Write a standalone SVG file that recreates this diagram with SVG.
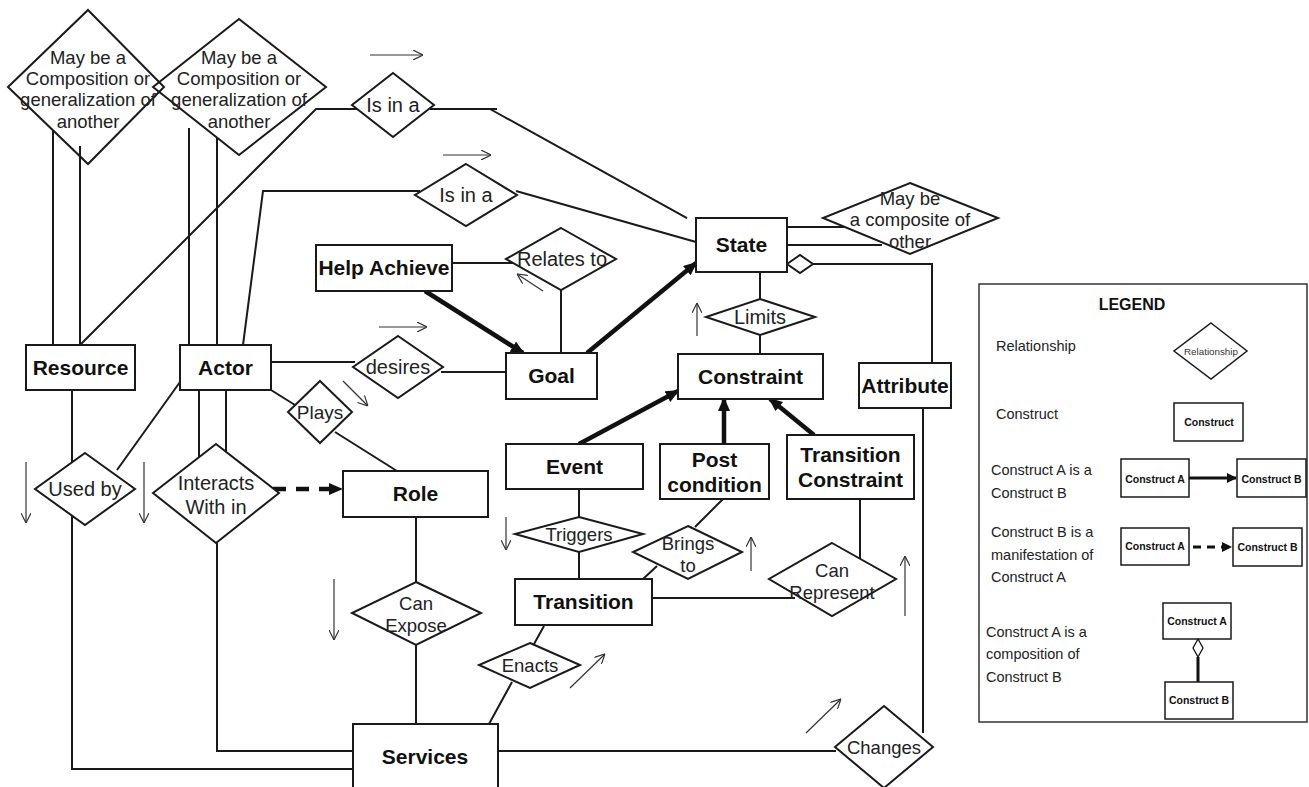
<svg xmlns="http://www.w3.org/2000/svg" width="1309" height="787" viewBox="0 0 1309 787">
<style>
.ln{fill:none;stroke:#1a1a1a;stroke-width:2}
.thick{fill:none;stroke:#111;stroke-width:4.5}
.thin{fill:none;stroke:#333;stroke-width:1.2}
.box{fill:#fff;stroke:#1a1a1a;stroke-width:2}
.dia{fill:#fff;stroke:#1a1a1a;stroke-width:2}
.dia0{fill:none;stroke:#1a1a1a;stroke-width:2}
.nt{font-family:"Liberation Sans",Arial,sans-serif;font-weight:bold;font-size:21px;fill:#111;text-anchor:middle}
.rt{font-family:"Liberation Sans",Arial,sans-serif;font-size:20px;fill:#222;text-anchor:middle}
.rs{font-family:"Liberation Sans",Arial,sans-serif;font-size:18.5px;fill:#222;text-anchor:middle}
.lt{font-family:"Liberation Sans",Arial,sans-serif;font-size:14.5px;fill:#222}
.lb{font-family:"Liberation Sans",Arial,sans-serif;font-weight:bold;font-size:10.5px;fill:#111;text-anchor:middle}
</style>
<defs>
<marker id="ah" viewBox="0 0 14 12" refX="12" refY="6" markerWidth="14" markerHeight="12" markerUnits="userSpaceOnUse" orient="auto"><path d="M0,0 L14,6 L0,12 z" fill="#111"/></marker>
<marker id="ahs" viewBox="0 0 10 10" refX="9" refY="5" markerWidth="10" markerHeight="10" markerUnits="userSpaceOnUse" orient="auto"><path d="M0,0 L10,5 L0,10 z" fill="#111"/></marker>
<marker id="oh" viewBox="0 0 10 10" refX="10" refY="5" markerWidth="10" markerHeight="10" markerUnits="userSpaceOnUse" orient="auto"><path d="M0,0 L10,5 L0,10" fill="none" stroke="#333" stroke-width="1.2"/></marker>
</defs>

<g id="connectors">
<path class="ln" d="M53,130 V345 M80,146 V345"/>
<path class="ln" d="M189,128 V345 M217,138 V345"/>
<path class="ln" d="M80,345 L316,109 H357"/>
<path class="ln" d="M430,109 H497 M490,109 L687,218"/>
<path class="ln" d="M243,345 L263,191 H420"/>
<path class="ln" d="M516,191 L696,242"/>
<path class="ln" d="M271,362 H355 M441,372 H506"/>
<path class="ln" d="M452,263 H513"/>
<path class="ln" d="M561,290 V353"/>
<path class="thick" d="M425,291 L523,353" marker-end="url(#ah)"/>
<path class="thick" d="M587,353 L696,263" marker-end="url(#ah)"/>
<path class="ln" d="M760,272 V299 M760,335 V354"/>
<path class="ln" d="M787,227 H846 M787,245 H882"/>
<path class="ln" d="M813,264 H932 V363"/>
<polygon class="dia" points="787,264 800,255 813,264 800,273"/>
<path class="ln" d="M923,408 V733"/>
<path class="ln" d="M498,751 H836"/>
<path class="ln" d="M72,390 V769 H353"/>
<path class="ln" d="M117,470 L180,382"/>
<path class="ln" d="M199,390 V457 M226,390 V452"/>
<path class="ln" d="M217,543 V751 H353"/>
<path d="M273,489 H341" fill="none" stroke="#111" stroke-width="4.5" stroke-dasharray="13 10" marker-end="url(#ah)"/>
<path class="ln" d="M271,390 L295,405 M335,432 L397,471"/>
<path class="ln" d="M416,517 V582 M416,645 V724"/>
<path class="thick" d="M579,444 L678,391" marker-end="url(#ah)"/>
<path class="thick" d="M724,444 V399" marker-end="url(#ah)"/>
<path class="thick" d="M814,435 L770,399" marker-end="url(#ah)"/>
<path class="ln" d="M579,489 V517 M579,552 V579"/>
<path class="ln" d="M723,499 L695,527 M657,566 L643,579"/>
<path class="ln" d="M652,598 H795"/>
<path class="ln" d="M860,499 V559"/>
<path class="ln" d="M544,626 L534,644 M512,682 L489,724"/>
<path class="thin" d="M370,55 H423" marker-end="url(#oh)"/>
<path class="thin" d="M443,155 H491" marker-end="url(#oh)"/>
<path class="thin" d="M379,327 H427" marker-end="url(#oh)"/>
<path class="thin" d="M343,381 L368,406" marker-end="url(#oh)"/>
<path class="thin" d="M543,291 L517,274" marker-end="url(#oh)"/>
<path class="thin" d="M697,336 V303" marker-end="url(#oh)"/>
<path class="thin" d="M26,462 V523" marker-end="url(#oh)"/>
<path class="thin" d="M144,462 V523" marker-end="url(#oh)"/>
<path class="thin" d="M334,579 V640" marker-end="url(#oh)"/>
<path class="thin" d="M506,517 V550" marker-end="url(#oh)"/>
<path class="thin" d="M751,571 V537" marker-end="url(#oh)"/>
<path class="thin" d="M905,616 V556" marker-end="url(#oh)"/>
<path class="thin" d="M570,688 L605,654" marker-end="url(#oh)"/>
<path class="thin" d="M806,733 L841,699" marker-end="url(#oh)"/>
</g>

<g id="comp1"><polygon class="dia0" points="88,10 164,87 88,164 8,87"/>
<text class="rs" x="88" y="63.5">May be a</text><text class="rs" x="88" y="84.5">Composition or</text><text class="rs" x="88" y="106">generalization of</text><text class="rs" x="88" y="127.5">another</text></g>
<g id="comp2"><polygon class="dia0" points="239,19 326,87 239,155 153,87"/>
<text class="rs" x="239" y="63.5">May be a</text><text class="rs" x="239" y="84.5">Composition or</text><text class="rs" x="239" y="106">generalization of</text><text class="rs" x="239" y="127.5">another</text></g>
<g id="isina1"><polygon class="dia" points="393,73 434,105 393,137 352,105"/><text class="rt" x="393" y="112">Is in a</text></g>
<g id="isina2"><polygon class="dia" points="466,164 517,195 466,226 415,195"/><text class="rt" x="466" y="202">Is in a</text></g>
<g id="relates"><polygon class="dia" points="561,228 616,259 561,290 506,259"/><text class="rt" x="562" y="266">Relates to</text></g>
<g id="desires"><polygon class="dia" points="398,336 443,367 398,398 353,367"/><text class="rt" x="398" y="374">desires</text></g>
<g id="plays"><polygon class="dia" points="320,381 352,412 320,443 288,412"/><text class="rt" x="320" y="419" style="font-size:19px">Plays</text></g>
<g id="usedby"><polygon class="dia" points="85,453 135,489 85,525 35,489"/><text class="rt" x="85" y="496">Used by</text></g>
<g id="interacts"><polygon class="dia" points="216,444 279,493 216,543 153,493"/><text class="rt" x="216" y="490">Interacts</text><text class="rt" x="216" y="514">With in</text></g>
<g id="limits"><polygon class="dia" points="760,299 815,317 760,335 706,317"/><text class="rt" x="760" y="324">Limits</text></g>
<g id="composite"><polygon class="dia" points="910,183 998,218 910,254 823,218"/><text class="rs" x="910" y="204.5">May be</text><text class="rs" x="910" y="225.5">a composite of</text><text class="rs" x="910" y="247.5">other</text></g>
<g id="triggers"><polygon class="dia" points="579,517 643,534 579,552 515,534"/><text class="rs" x="579" y="541">Triggers</text></g>
<g id="brings"><polygon class="dia" points="688,526 742,552 688,579 633,552"/><text class="rs" x="688" y="549.5">Brings</text><text class="rs" x="688" y="571.5">to</text></g>
<g id="canrep"><polygon class="dia" points="832,543 896,579 832,616 769,579"/><text class="rs" x="832" y="576.5">Can</text><text class="rs" x="832" y="598.5">Represent</text></g>
<g id="canexp"><polygon class="dia" points="416,582 481,613 416,645 352,613"/><text class="rs" x="416" y="609.5">Can</text><text class="rs" x="416" y="631.5">Expose</text></g>
<g id="enacts"><polygon class="dia" points="530,643 580,665 530,688 479,665"/><text class="rs" x="530" y="671.5">Enacts</text></g>
<g id="changes"><polygon class="dia" points="884,706 933,747 884,788 835,747"/><text class="rs" x="884" y="753.5">Changes</text></g>

<g id="resource"><rect class="box" x="26" y="345" width="109" height="45"/><text class="nt" x="80.5" y="375">Resource</text></g>
<g id="actor"><rect class="box" x="180" y="345" width="91" height="45"/><text class="nt" x="225.5" y="375">Actor</text></g>
<g id="helpachieve"><rect class="box" x="316" y="245" width="136" height="46"/><text class="nt" x="384" y="275">Help Achieve</text></g>
<g id="goal"><rect class="box" x="506" y="353" width="91" height="46"/><text class="nt" x="551.5" y="383">Goal</text></g>
<g id="state"><rect class="box" x="696" y="218" width="91" height="54"/><text class="nt" x="741.5" y="252">State</text></g>
<g id="constraint"><rect class="box" x="678" y="354" width="145" height="45"/><text class="nt" x="750.5" y="384">Constraint</text></g>
<g id="attribute"><rect class="box" x="859" y="363" width="92" height="45"/><text class="nt" x="905" y="393">Attribute</text></g>
<g id="role"><rect class="box" x="343" y="471" width="145" height="46"/><text class="nt" x="415.5" y="501">Role</text></g>
<g id="event"><rect class="box" x="506" y="444" width="137" height="45"/><text class="nt" x="574.5" y="474">Event</text></g>
<g id="postcondition"><rect class="box" x="660" y="444" width="109" height="55"/><text class="nt" x="714.5" y="467">Post</text><text class="nt" x="714.5" y="492">condition</text></g>
<g id="transitionconstraint"><rect class="box" x="787" y="435" width="127" height="64"/><text class="nt" x="850.5" y="462">Transition</text><text class="nt" x="850.5" y="487">Constraint</text></g>
<g id="transition"><rect class="box" x="515" y="579" width="137" height="46"/><text class="nt" x="583.5" y="609">Transition</text></g>
<g id="services"><rect class="box" x="353" y="724" width="145" height="72"/><text class="nt" x="425" y="764">Services</text></g>

<g id="legend">
<rect x="979" y="284" width="328" height="438" fill="#fff" stroke="#333" stroke-width="1.5"/>
<text x="1132" y="310" style="font-family:'Liberation Sans',Arial,sans-serif;font-weight:bold;font-size:16px;fill:#111;text-anchor:middle">LEGEND</text>
<text class="lt" x="996" y="351">Relationship</text>
<polygon points="1211,323 1247,351 1211,379 1174,351" fill="#fff" stroke="#1a1a1a" stroke-width="1.5"/>
<text x="1211" y="354.5" style="font-family:'Liberation Sans',Arial,sans-serif;font-size:9.8px;fill:#333;text-anchor:middle">Relationship</text>
<text class="lt" x="996" y="419">Construct</text>
<rect x="1174" y="403" width="69" height="38" fill="#fff" stroke="#1a1a1a" stroke-width="1.5"/>
<text class="lb" x="1209" y="426">Construct</text>
<text class="lt" x="991" y="475">Construct A  is a</text>
<text class="lt" x="991" y="498">Construct B</text>
<rect x="1121" y="459" width="68" height="38" fill="#fff" stroke="#1a1a1a" stroke-width="1.5"/>
<text class="lb" x="1155" y="482.5">Construct A</text>
<path d="M1189,478 H1236" stroke="#111" stroke-width="3" fill="none" marker-end="url(#ahs)"/>
<rect x="1237" y="459" width="69" height="38" fill="#fff" stroke="#1a1a1a" stroke-width="1.5"/>
<text class="lb" x="1271.5" y="482.5">Construct B</text>
<text class="lt" x="991" y="537">Construct B is a</text>
<text class="lt" x="991" y="560">manifestation of</text>
<text class="lt" x="991" y="582">Construct A</text>
<rect x="1121" y="528" width="68" height="37" fill="#fff" stroke="#1a1a1a" stroke-width="1.5"/>
<text class="lb" x="1155" y="550">Construct A</text>
<path d="M1193,547 H1231" stroke="#111" stroke-width="3" stroke-dasharray="8 6" fill="none" marker-end="url(#ahs)"/>
<rect x="1233" y="528" width="69" height="38" fill="#fff" stroke="#1a1a1a" stroke-width="1.5"/>
<text class="lb" x="1267.5" y="551">Construct B</text>
<text class="lt" x="986" y="637">Construct A is a</text>
<text class="lt" x="986" y="659">composition of</text>
<text class="lt" x="986" y="682">Construct B</text>
<rect x="1163" y="603" width="68" height="36" fill="#fff" stroke="#1a1a1a" stroke-width="1.5"/>
<text class="lb" x="1197" y="625">Construct A</text>
<path d="M1198,657 V682" stroke="#111" stroke-width="3" fill="none"/>
<polygon points="1198,639 1203,648 1198,657 1193,648" fill="#fff" stroke="#111" stroke-width="1.3"/>
<rect x="1165" y="682" width="68" height="37" fill="#fff" stroke="#1a1a1a" stroke-width="1.5"/>
<text class="lb" x="1199" y="704">Construct B</text>
</g>
</svg>
